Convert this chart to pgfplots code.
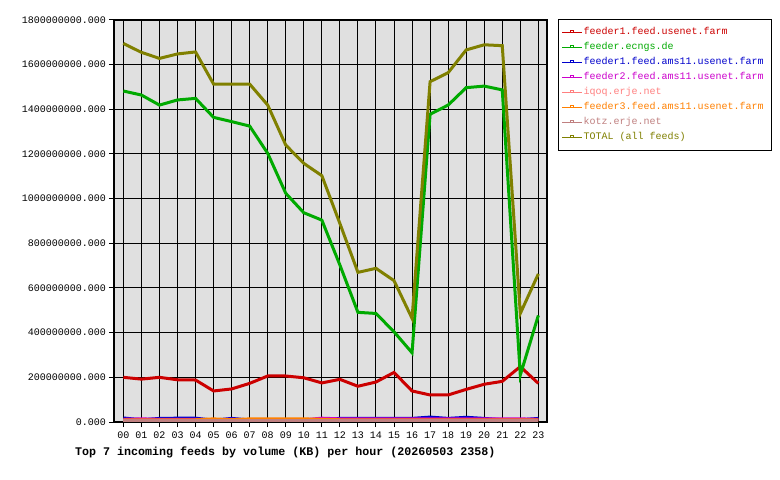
\documentclass[border=0pt]{standalone}
\usepackage{pgfplots}
\pgfplotsset{compat=1.18}
\usepackage{fontspec}
\setmainfont{Liberation Mono}
\setmonofont{Liberation Mono}
\definecolor{cred}{HTML}{CC0000}
\definecolor{cgreen}{HTML}{00AA00}
\definecolor{cblue}{HTML}{0000CC}
\definecolor{cmag}{HTML}{CC00CC}
\definecolor{cpink}{HTML}{FF8080}
\definecolor{corange}{HTML}{FF8000}
\definecolor{ckotz}{HTML}{C08080}
\definecolor{colive}{HTML}{808000}
\definecolor{bggray}{HTML}{E0E0E0}
\newcommand{\lentry}[2]{\textcolor{#1}{\makebox[184bp][l]{#2}}}
\begin{document}
\begin{tikzpicture}
\path[use as bounding box] (0,0) rectangle (780bp,480bp);
\begin{axis}[
  at={(114bp,58bp)}, anchor=south west,
  scale only axis, width=433bp, height=402bp,
  xmin=-0.52, xmax=23.48, ymin=0, ymax=1800000000,
  axis background/.style={fill=bggray},
  xtick={0,1,2,3,4,5,6,7,8,9,10,11,12,13,14,15,16,17,18,19,20,21,22,23},
  xticklabels={00,01,02,03,04,05,06,07,08,09,10,11,12,13,14,15,16,17,18,19,20,21,22,23},
  ytick={0,200000000,400000000,600000000,800000000,1000000000,1200000000,1400000000,1600000000,1800000000},
  yticklabels={0.000,200000000.000,400000000.000,600000000.000,800000000.000,1000000000.000,1200000000.000,1400000000.000,1600000000.000,1800000000.000},
  scaled y ticks=false,
  tick align=outside, xtick pos=left, ytick pos=left,
  major tick length=5bp,
  tick style={black, line width=1bp},
  grid=major, major grid style={black, line width=1bp},
  axis line style={black, line width=1.2bp},
  ticklabel style={font=\fontsize{10bp}{12bp}\selectfont},
  xticklabel style={inner sep=2bp, yshift=-3bp},
  yticklabel style={inner sep=3bp},
  every axis plot/.append style={line width=3bp, no markers, line join=miter},
  legend image code/.code={
    \draw[#1, line width=1bp] (0bp,0bp) -- (20bp,0bp);
    \draw[#1, line width=0.8bp] (8.5bp,0bp) rectangle (11.5bp,2.5bp);
  },
  legend style={at={(1.0254,1.0025)}, anchor=north west, draw=black, line width=1bp,
    fill=white, font=\fontsize{10bp}{12bp}\selectfont,
    inner xsep=3bp, inner ysep=6.5bp, row sep=2bp,
    nodes={inner sep=1bp, text height=8bp, text depth=3bp}},
  legend cell align=left,
]
\addplot[cred] coordinates {(0,200000000)(1,192000000)(2,200000000)(3,189000000)(4,188000000)(5,139000000)(6,148000000)(7,173000000)(8,206000000)(9,206000000)(10,198000000)(11,175000000)(12,191000000)(13,160000000)(14,179000000)(15,222000000)(16,139000000)(17,121000000)(18,121000000)(19,146000000)(20,169000000)(21,182000000)(22,248000000)(23,173000000)};
\addlegendentry{\lentry{cred}{feeder1.feed.usenet.farm}}
\addplot[cgreen] coordinates {(0,1482000000)(1,1464000000)(2,1419000000)(3,1442000000)(4,1449000000)(5,1364000000)(6,1345000000)(7,1325000000)(8,1203000000)(9,1024000000)(10,937000000)(11,904000000)(12,703000000)(13,491000000)(14,486000000)(15,404000000)(16,310000000)(17,1378000000)(18,1419000000)(19,1497000000)(20,1504000000)(21,1487000000)(22,210000000)(23,477000000)};
\addlegendentry{\lentry{cgreen}{feeder.ecngs.de}}
\addplot[cblue] coordinates {(0,18000000)(1,10000000)(2,16000000)(3,17000000)(4,17000000)(5,8000000)(6,16000000)(7,9000000)(8,9000000)(9,9000000)(10,9000000)(11,12000000)(12,16000000)(13,16000000)(14,16000000)(15,16000000)(16,16000000)(17,22000000)(18,16000000)(19,21000000)(20,16000000)(21,10000000)(22,10000000)(23,16000000)};
\addlegendentry{\lentry{cblue}{feeder1.feed.ams11.usenet.farm}}
\addplot[cmag] coordinates {(0,12000000)(1,14000000)(2,12000000)(3,12000000)(4,12000000)(5,10000000)(6,12000000)(7,10000000)(8,10000000)(9,10000000)(10,10000000)(11,17000000)(12,14000000)(13,14000000)(14,14000000)(15,14000000)(16,14000000)(17,14000000)(18,14000000)(19,14000000)(20,14000000)(21,14000000)(22,14000000)(23,12000000)};
\addlegendentry{\lentry{cmag}{feeder2.feed.ams11.usenet.farm}}
\addplot[cpink] coordinates {(0,5000000)(1,5000000)(2,5000000)(3,5000000)(4,5000000)(5,5000000)(6,5000000)(7,5000000)(8,5000000)(9,5000000)(10,5000000)(11,5000000)(12,5000000)(13,5000000)(14,5000000)(15,5000000)(16,5000000)(17,5000000)(18,5000000)(19,5000000)(20,5000000)(21,5000000)(22,5000000)(23,5000000)};
\addlegendentry{\lentry{cpink}{iqoq.erje.net}}
\addplot[corange] coordinates {(0,10000000)(1,10000000)(2,10000000)(3,10000000)(4,10000000)(5,14000000)(6,10000000)(7,14000000)(8,14000000)(9,14000000)(10,14000000)(11,12000000)(12,10000000)(13,10000000)(14,10000000)(15,10000000)(16,10000000)(17,10000000)(18,10000000)(19,10000000)(20,10000000)(21,10000000)(22,10000000)(23,10000000)};
\addlegendentry{\lentry{corange}{feeder3.feed.ams11.usenet.farm}}
\addplot[ckotz] coordinates {(0,7000000)(1,7000000)(2,7000000)(3,7000000)(4,7000000)(5,7000000)(6,7000000)(7,7000000)(8,7000000)(9,7000000)(10,7000000)(11,7000000)(12,7000000)(13,7000000)(14,7000000)(15,7000000)(16,7000000)(17,7000000)(18,7000000)(19,7000000)(20,7000000)(21,7000000)(22,7000000)(23,7000000)};
\addlegendentry{\lentry{ckotz}{kotz.erje.net}}
\addplot[colive] coordinates {(0,1695000000)(1,1655000000)(2,1628000000)(3,1648000000)(4,1657000000)(5,1513000000)(6,1513000000)(7,1513000000)(8,1419000000)(9,1240000000)(10,1158000000)(11,1103000000)(12,889000000)(13,670000000)(14,688000000)(15,633000000)(16,464000000)(17,1524000000)(18,1564000000)(19,1666000000)(20,1689000000)(21,1685000000)(22,486000000)(23,663000000)};
\addlegendentry{\lentry{colive}{TOTAL (all feeds)}}
\end{axis}
\node[anchor=west, inner sep=0pt, font=\fontsize{11.67bp}{14bp}\selectfont\bfseries] at (75bp,28bp) {Top 7 incoming feeds by volume (KB) per hour (20260503 2358)};
\end{tikzpicture}
\end{document}
